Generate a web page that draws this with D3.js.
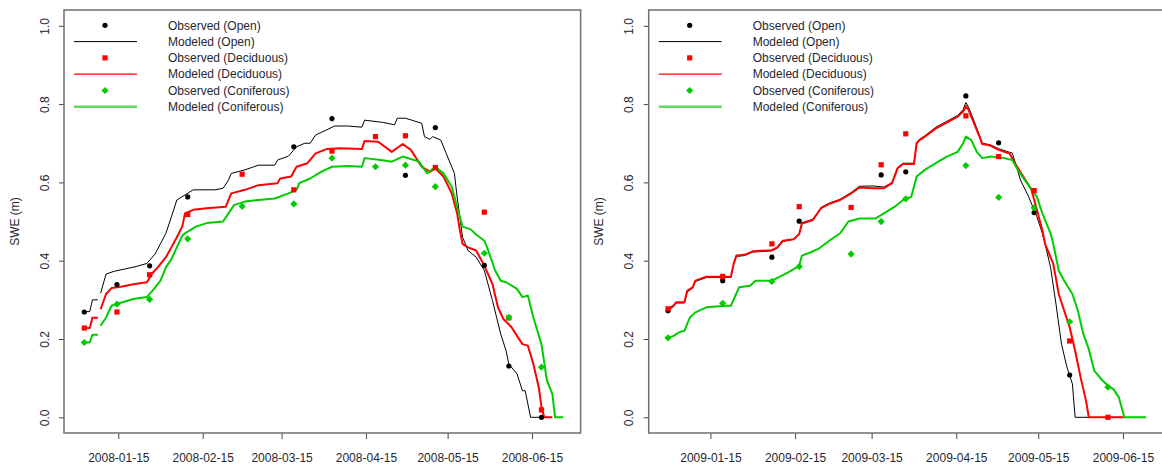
<!DOCTYPE html>
<html>
<head>
<meta charset="utf-8">
<script src="https://cdn.jsdelivr.net/npm/d3@7"></script>
<style>
  body { margin: 0; background: #fff; }
  svg { display: block; font-family: 'Liberation Sans', Arial, sans-serif; }
</style>
</head>
<body>
<svg id="chart" width="1162" height="468"></svg>
<script>
// days are day-of-year (Jan 1 = 1), SWE in metres
const ticks2008 = ['2008-01-15', '2008-02-15', '2008-03-15', '2008-04-15', '2008-05-15', '2008-06-15']
const ticks2009 = ['2009-01-15', '2009-02-15', '2009-03-15', '2009-04-15', '2009-05-15', '2009-06-15']

const obsOpenDays2008 = [2, 14, 26, 40, 79, 93, 120, 131, 149, 158, 170]
const obsOpen2008 = [0.269, 0.339, 0.387, 0.563, 0.691, 0.763, 0.618, 0.740, 0.388, 0.131, 0.0]
const obsForestDays2008 = [2, 14, 26, 40, 60, 79, 93, 109, 120, 131, 149, 158, 170]
const obsDecid2008 = [0.228, 0.269, 0.364, 0.518, 0.621, 0.581, 0.680, 0.717, 0.719, 0.638, 0.524, 0.254, 0.019]
const obsConif2008 = [0.191, 0.289, 0.301, 0.456, 0.539, 0.545, 0.662, 0.640, 0.644, 0.589, 0.419, 0.255, 0.128]

const obsOpenDays2009 = [-1, 19, 37, 47, 77, 86, 108, 120, 133, 146]
const obsOpen2009 = [0.272, 0.349, 0.409, 0.501, 0.619, 0.627, 0.821, 0.701, 0.523, 0.108]
const obsForestDays2009 = [-1, 19, 37, 47, 66, 77, 86, 108, 120, 133, 146, 160]
const obsDecid2009 = [0.277, 0.360, 0.443, 0.538, 0.536, 0.645, 0.724, 0.770, 0.666, 0.579, 0.195, 0.0]
const obsConif2009 = [0.203, 0.291, 0.347, 0.385, 0.417, 0.500, 0.558, 0.643, 0.562, 0.535, 0.244, 0.077]

// modeled series, [day, swe]; null = gap in record
const modOpen2008 = [[2,0.27],[4,0.27],[5,0.30],[7,0.30],null,[8,0.317],[10,0.366],[13,0.373],[17,0.379],[21,0.385],[25,0.393],[28,0.417],[32,0.47],[34,0.512],[36,0.555],[39,0.568],[42,0.581],[50,0.581],[53,0.585],[55,0.606],[56,0.623],[61,0.632],[66,0.644],[72,0.644],[73,0.657],[77,0.667],[80,0.691],[83,0.70],[85,0.70],[87,0.721],[91,0.734],[94,0.744],[99,0.744],[104,0.741],[105,0.759],[112,0.753],[116,0.747],[117,0.764],[120,0.764],[126,0.751],[127,0.717],[129,0.710],[130,0.717],[133,0.708],[135,0.674],[138,0.623],[139,0.563],[140,0.512],[141,0.46],[143,0.426],[146,0.409],[149,0.375],[152,0.298],[155,0.213],[157,0.170],[158,0.136],[161,0.111],[163,0.068],[164,0.068],[166,0.0],[170,0.0]]
const modDecid2008 = [[2,0.228],[4,0.228],[5,0.254],[7,0.254],null,[8,0.276],[10,0.315],[12,0.330],[16,0.334],[20,0.340],[25,0.345],[27,0.368],[29,0.383],[32,0.409],[34,0.434],[36,0.460],[38,0.487],[39,0.521],[42,0.530],[47,0.534],[54,0.538],[56,0.572],[61,0.581],[66,0.593],[73,0.598],[74,0.610],[78,0.615],[80,0.640],[84,0.649],[87,0.674],[91,0.685],[96,0.687],[104,0.685],[105,0.706],[110,0.704],[115,0.678],[119,0.698],[122,0.683],[126,0.640],[129,0.627],[131,0.636],[134,0.615],[137,0.572],[139,0.521],[140,0.478],[141,0.443],[143,0.434],[146,0.426],[149,0.387],[152,0.340],[154,0.281],[156,0.251],[159,0.230],[161,0.208],[163,0.187],[165,0.183],[167,0.136],[169,0.077],[170,0.026],[171,0.0],[174,0.0]]
const modConif2008 = [[2,0.191],[4,0.191],[5,0.211],[7,0.211],null,[8,0.234],[10,0.255],[12,0.285],[16,0.294],[20,0.302],[25,0.307],[27,0.323],[30,0.349],[32,0.383],[34,0.404],[36,0.434],[38,0.464],[39,0.470],[43,0.487],[47,0.496],[53,0.500],[55,0.521],[57,0.542],[61,0.551],[66,0.555],[72,0.559],[77,0.572],[80,0.581],[81,0.598],[85,0.610],[89,0.627],[93,0.640],[99,0.642],[104,0.640],[105,0.662],[111,0.657],[115,0.653],[119,0.666],[125,0.653],[128,0.623],[131,0.640],[134,0.623],[137,0.589],[139,0.538],[141,0.487],[144,0.480],[146,0.467],[149,0.451],[150,0.434],[153,0.375],[155,0.349],[157,0.345],[161,0.328],[163,0.307],[165,0.311],[167,0.255],[170,0.187],[172,0.094],[174,0.060],[175,0.0],[178,0.0]]

const modOpen2009 = [[-1,0.272],[1,0.283],[2,0.292],[5,0.292],[6,0.320],[8,0.330],[9,0.347],[13,0.357],[22,0.357],[23,0.390],[24,0.411],[27,0.413],[30,0.422],[37,0.425],[39,0.432],[41,0.449],[45,0.455],[47,0.468],[48,0.497],[52,0.506],[55,0.536],[58,0.547],[62,0.557],[66,0.574],[69,0.590],[74,0.591],[78,0.588],[81,0.600],[83,0.638],[85,0.649],[89,0.649],[90,0.702],[91,0.710],[93,0.719],[97,0.741],[101,0.756],[105,0.771],[107,0.786],[108,0.804],[109,0.792],[111,0.757],[113,0.720],[114,0.700],[117,0.696],[120,0.686],[124,0.677],[125,0.675],[128,0.606],[131,0.563],[134,0.512],[136,0.470],[137,0.443],[139,0.383],[141,0.289],[143,0.187],[145,0.128],[147,0.085],[148,0.0],[153,0.0]]
const modDecid2009 = [[-1,0.277],[1,0.285],[2,0.294],[5,0.294],[6,0.323],[8,0.332],[9,0.349],[13,0.359],[22,0.359],[23,0.392],[24,0.413],[27,0.415],[30,0.424],[37,0.427],[39,0.434],[41,0.451],[45,0.455],[47,0.468],[48,0.495],[52,0.504],[55,0.534],[58,0.545],[62,0.555],[66,0.572],[69,0.587],[74,0.585],[78,0.585],[81,0.598],[83,0.636],[85,0.647],[89,0.647],[90,0.700],[91,0.708],[93,0.717],[97,0.738],[101,0.753],[105,0.768],[107,0.781],[108,0.795],[109,0.785],[111,0.751],[113,0.717],[114,0.698],[117,0.694],[120,0.683],[124,0.674],[126,0.649],[129,0.615],[132,0.581],[134,0.530],[136,0.478],[137,0.443],[140,0.392],[142,0.315],[144,0.272],[146,0.230],[148,0.170],[150,0.102],[152,0.042],[153,0.0],[166,0.0]]
const modConif2009 = [[-1,0.203],[1,0.208],[3,0.217],[5,0.221],[7,0.255],[9,0.268],[13,0.281],[20,0.285],[22,0.285],[25,0.332],[29,0.336],[31,0.349],[37,0.349],[43,0.370],[47,0.387],[48,0.413],[51,0.421],[54,0.430],[58,0.451],[62,0.470],[65,0.500],[69,0.508],[75,0.508],[78,0.521],[82,0.538],[85,0.555],[88,0.563],[90,0.615],[93,0.632],[97,0.649],[101,0.666],[105,0.678],[107,0.700],[108,0.717],[110,0.708],[112,0.678],[114,0.662],[117,0.666],[122,0.662],[125,0.657],[127,0.632],[130,0.602],[134,0.563],[136,0.521],[139,0.470],[140,0.443],[142,0.375],[144,0.349],[147,0.315],[149,0.272],[151,0.213],[153,0.174],[155,0.119],[158,0.094],[160,0.081],[162,0.072],[164,0.051],[166,0.0],[174,0.0]]

const legendLabels = ['Observed (Open)', 'Modeled (Open)', 'Observed (Deciduous)', 'Modeled (Deciduous)', 'Observed (Coniferous)', 'Modeled (Coniferous)']
const yTicks = [0, 0.2, 0.4, 0.6, 0.8, 1.0]

const BLACK = '#000', RED = '#ff0000', GREEN = '#00cd00'
const AXIS = '#6e6e6e', TEXT = '#262630'

const panels = [
  {
    year: 2008, left: 64,
    domain: ['2007-12-26T01:00:00', '2008-07-02T21:00:00'],
    ticks: ticks2008,
    lines: [[modOpen2008, BLACK, 1], [modDecid2008, RED, 2], [modConif2008, GREEN, 2]],
    points: [
      [obsOpenDays2008, obsOpen2008, 'circle', BLACK],
      [obsForestDays2008, obsDecid2008, 'square', RED],
      [obsForestDays2008, obsConif2008, 'diamond', GREEN],
    ],
  },
  {
    year: 2009, left: 648.7,
    domain: ['2008-12-23T10:00:00', '2009-06-30T12:00:00'],
    ticks: ticks2009,
    lines: [[modOpen2009, BLACK, 1], [modDecid2009, RED, 2], [modConif2009, GREEN, 2]],
    points: [
      [obsOpenDays2009, obsOpen2009, 'circle', BLACK],
      [obsForestDays2009, obsDecid2009, 'square', RED],
      [obsForestDays2009, obsConif2009, 'diamond', GREEN],
    ],
  },
]

const panelWidth = 516.6
const plotTop = 10, plotBottom = 433
const svg = d3.select('#chart')

const y = d3.scaleLinear().domain([0, 1]).range([417.3, 25.8])

const marker = (g, shape, color) => {
  if (shape === 'circle') {
    g.append('circle').attr('r', 2.6).attr('fill', color)
  } else if (shape === 'square') {
    g.append('rect').attr('x', -2.6).attr('y', -2.6).attr('width', 5.2).attr('height', 5.2).attr('fill', color)
  } else {
    const h = 3.6
    g.append('path').attr('d', `M0,${-h}L${h},0L0,${h}L${-h},0Z`).attr('fill', color)
  }
}

panels.forEach((p) => {
  const x = d3.scaleTime()
    .domain(p.domain.map((d) => new Date(d)))
    .range([p.left, p.left + panelWidth])
  const dayDate = (day) => new Date(p.year, 0, day, 12)

  const g = svg.append('g')

  // modeled lines
  const line = d3.line()
    .defined((d) => d !== null)
    .x((d) => x(dayDate(d[0])))
    .y((d) => y(d[1]))

  p.lines.forEach(([data, color, lw]) => {
    g.append('path')
      .datum(data)
      .attr('d', line)
      .attr('fill', 'none')
      .attr('stroke', color)
      .attr('stroke-width', lw)
      .attr('stroke-linejoin', 'round')
  })

  // observations
  p.points.forEach(([days, vals, shape, color]) => {
    days.forEach((day, i) => {
      const m = g.append('g')
        .attr('transform', `translate(${x(dayDate(day))},${y(vals[i])})`)
      marker(m, shape, color)
    })
  })

  // x axis
  const xAxis = d3.axisBottom(x)
    .tickValues(p.ticks.map((t) => new Date(t + 'T00:00:00')))
    .tickFormat(d3.timeFormat('%Y-%m-%d'))
    .tickSize(6)
    .tickPadding(14.5)
  const gx = g.append('g').attr('transform', `translate(0,${plotBottom})`).call(xAxis)
  gx.select('.domain').remove()
  gx.selectAll('line').attr('stroke', '#444')
  gx.selectAll('text').attr('fill', TEXT).style('font-size', '12px')
  gx.attr('font-family', null).attr('font-size', null)

  // y axis, labels turned like R
  const yAxis = d3.axisLeft(y).tickValues(yTicks).tickFormat(d3.format('.1f')).tickSize(5)
  const gy = g.append('g').attr('transform', `translate(${p.left},0)`).call(yAxis)
  gy.select('.domain').remove()
  gy.attr('font-family', null).attr('font-size', null)
  gy.selectAll('line').attr('stroke', '#444')
  gy.selectAll('text')
    .attr('x', null).attr('dy', null)
    .attr('text-anchor', 'middle')
    .attr('transform', 'translate(-15.5,0) rotate(-90)')
    .attr('fill', TEXT)
    .style('font-size', '12px')

  g.append('text')
    .attr('transform', `translate(${p.left - 45.5},${(plotTop + plotBottom) / 2}) rotate(-90)`)
    .attr('text-anchor', 'middle')
    .attr('fill', TEXT)
    .style('font-size', '12px')
    .text('SWE (m)')

  // box
  g.append('rect')
    .attr('x', p.left).attr('y', plotTop)
    .attr('width', panelWidth).attr('height', plotBottom - plotTop)
    .attr('fill', 'none').attr('stroke', AXIS).attr('stroke-width', 1.5)

  // legend
  const leg = g.append('g').attr('transform', `translate(${p.left},0)`)
  legendLabels.forEach((label, i) => {
    const ly = 25.3 + i * 16.3
    if (i % 2 === 0) {
      const shape = ['circle', 'square', 'diamond'][i / 2]
      const color = [BLACK, RED, GREEN][i / 2]
      const m = leg.append('g').attr('transform', `translate(41,${ly})`)
      marker(m, shape, color)
    } else {
      const k = (i - 1) / 2
      leg.append('line')
        .attr('x1', 10).attr('x2', 73)
        .attr('y1', ly).attr('y2', ly)
        .attr('stroke', [BLACK, RED, '#5fdc5f'][k])
        .attr('stroke-width', [1, 1.2, 2.4][k])
    }
    leg.append('text')
      .attr('x', 104).attr('y', ly)
      .attr('dy', '0.35em')
      .attr('fill', TEXT)
      .style('font-size', '12px')
      .text(label)
  })
})
</script>
</body>
</html>
